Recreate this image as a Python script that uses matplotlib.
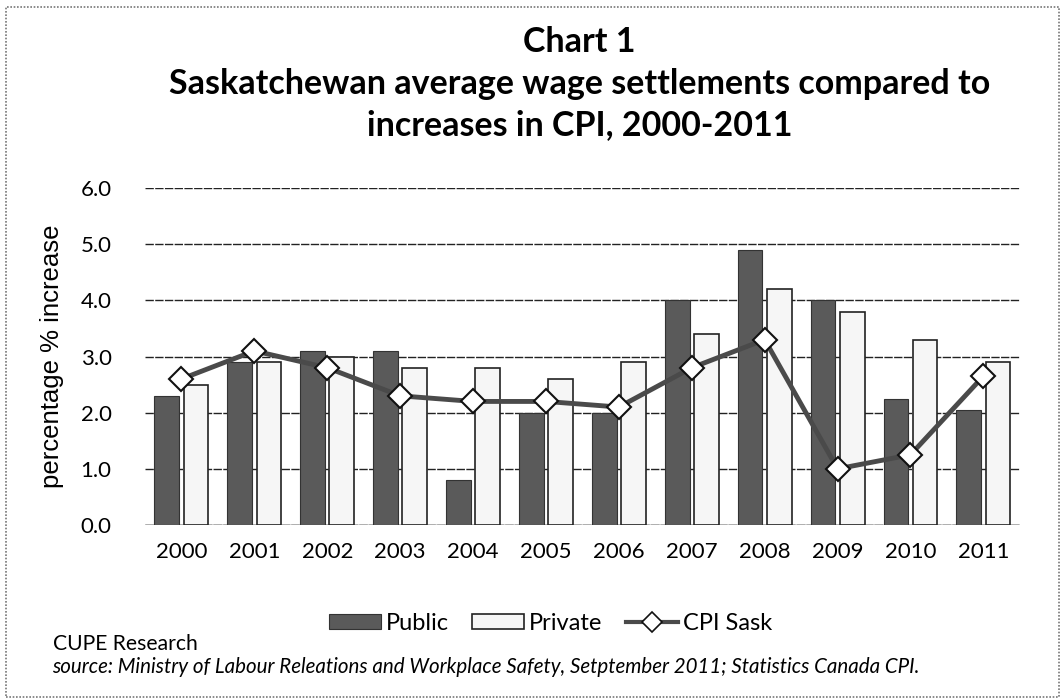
import matplotlib
matplotlib.use("Agg")
import matplotlib.pyplot as plt
import numpy as np
from matplotlib.patches import Rectangle, Patch
from matplotlib.lines import Line2D

# donnees
annees = ["2000", "2001", "2002", "2003", "2004", "2005",
          "2006", "2007", "2008", "2009", "2010", "2011"]
public = [2.3, 2.9, 3.1, 3.1, 0.8, 2.0, 2.0, 4.0, 4.9, 4.0, 2.25, 2.05]
prive = [2.5, 2.9, 3.0, 2.8, 2.8, 2.6, 2.9, 3.4, 4.2, 3.8, 3.3, 2.9]
cpi = [2.6, 3.1, 2.8, 2.3, 2.2, 2.2, 2.1, 2.8, 3.3, 1.0, 1.25, 2.65]
yticks = [0.0, 1.0, 2.0, 3.0, 4.0, 5.0, 6.0]

police = "Lato"

fig = plt.figure(figsize=(10.63, 7.0), dpi=100)
fig.patches.append(Rectangle((0.006, 0.004), 0.99, 0.986, transform=fig.transFigure,
                             fill=False, edgecolor="#777777", lw=1.2, ls=(0, (1, 1))))

ax = fig.add_axes([0.1364, 0.25, 0.823, 0.4814])
x = np.arange(len(annees))
larg = 0.34
ax.bar(x - 0.2, public, larg, color="#5a5a5a", edgecolor="#333333", lw=0.8, zorder=3)
ax.bar(x + 0.2, prive, larg, color="#f6f6f6", edgecolor="#222222", lw=1.2, zorder=3)
ax.plot(x, cpi, color="#4a4a4a", lw=3.5, marker="D", ms=12, mfc="white", mec="#111111",
        mew=1.5, zorder=4)

ax.set_xlim(-0.5, len(annees) - 0.5)
ax.set_ylim(0, 6.0)
ax.set_yticks(yticks)
ax.set_yticklabels(["%.1f" % v for v in yticks], fontsize=16, family=police)
ax.set_xticks(x)
ax.set_xticklabels(annees, fontsize=16, family=police)
ax.tick_params(length=0, pad=12)
ax.tick_params(axis="y", pad=24)
ax.yaxis.grid(True, color="#222222", lw=1.0, ls=(0, (6, 1)))
ax.set_axisbelow(True)
for s in ax.spines.values():
    s.set_visible(False)
ax.axhline(0, color="#222222", lw=1.0, zorder=2)

ax.set_ylabel("percentage % increase", fontsize=18.5, family="Liberation Sans", labelpad=12)

titre = ["Chart 1", "Saskatchewan average wage settlements compared to",
         "increases in CPI, 2000-2011"]
for i, ligne in enumerate(titre):
    fig.text(0.545, 0.94 - i * 0.0595, ligne, ha="center", va="center", fontsize=24.5,
             fontweight="bold", family=police)

poignees = [Patch(facecolor="#5a5a5a", edgecolor="#333333", lw=0.8),
            Patch(facecolor="#f6f6f6", edgecolor="#222222", lw=1.2),
            Line2D([], [], color="#4a4a4a", lw=3, marker="D", ms=10, mfc="white",
                   mec="#111111", mew=1.2)]
fig.legend(poignees, ["Public", "Private", "CPI Sask"], loc="center",
           bbox_to_anchor=(0.518, 0.11), ncol=3, frameon=False,
           prop={"family": police, "size": 17}, handlelength=2.2, handleheight=0.6,
           columnspacing=1.0, handletextpad=0.2)

fig.text(0.05, 0.08, "CUPE Research", fontsize=15.2, family=police, va="center")
fig.text(0.049, 0.047, "source: Ministry of Labour Releations and Workplace Safety, Setptember 2011; Statistics Canada CPI.",
         fontsize=14.8, family=police, style="italic", va="center")

fig.savefig("out.png", dpi=100)
